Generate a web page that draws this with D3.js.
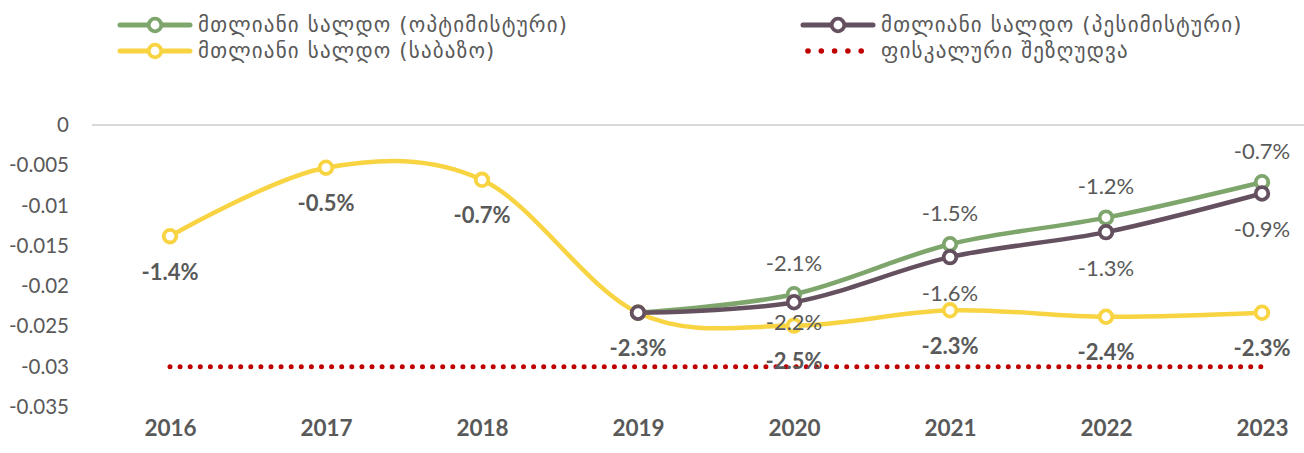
<!DOCTYPE html>
<html><head><meta charset="utf-8">
<script src="https://cdn.jsdelivr.net/npm/d3@7/dist/d3.min.js"></script>
<style>body{margin:0;background:#fff}svg{display:block}</style>
</head><body><svg id="c" width="1304" height="453"></svg>
<script>
const years = ["2016","2017","2018","2019","2020","2021","2022","2023"];
const yTicks = [0,-0.005,-0.01,-0.015,-0.02,-0.025,-0.03,-0.035];
const baseline = [-0.0138,-0.0053,-0.0068,-0.0233,-0.0249,-0.0230,-0.0238,-0.0233];
const baselineLabels = ["-1.4%","-0.5%","-0.7%","-2.3%","-2.5%","-2.3%","-2.4%","-2.3%"];
const optYears = ["2019","2020","2021","2022","2023"];
const optimistic = [-0.0233,-0.0210,-0.0148,-0.0115,-0.0071];
const optLabels = [null,"-2.1%","-1.5%","-1.2%","-0.7%"];
const pessimistic = [-0.0233,-0.0220,-0.0164,-0.0133,-0.0085];
const pessLabels = [null,"-2.2%","-1.6%","-1.3%","-0.9%"];
const fiscalLimit = [-0.03,-0.03,-0.03,-0.03,-0.03,-0.03,-0.03,-0.03];
const legendNames = ["მთლიანი სალდო (ოპტიმისტური)","მთლიანი სალდო (საბაზო)","მთლიანი სალდო (პესიმისტური)","ფისკალური შეზღუდვა"];

const svg = d3.select("#c");
const x = d3.scalePoint().domain(years).range([92,1340]).padding(0.5);
const y = d3.scaleLinear().domain([-0.035,0]).range([407,125]);
const C = {green:"#7ea66c", yellow:"#f8d443", purple:"#655060", red:"#c00000", text:"#595959"};
const font = "Lato, 'Open Sans', sans-serif";

// top axis line (y=0)
svg.append("line").attr("x1",92).attr("x2",1304).attr("y1",y(0)).attr("y2",y(0))
  .attr("stroke","#d9d9d9").attr("stroke-width",2);

// y axis
const yAxis = d3.axisLeft(y).tickValues(yTicks).tickSize(0).tickPadding(0)
  .tickFormat(d => d===0 ? "0" : String(+d.toFixed(3)));
const ya = svg.append("g").attr("transform","translate(69,0)").call(yAxis);
ya.select(".domain").remove();
ya.selectAll("text").attr("fill",C.text).style("font-family",font).style("font-size","20.5px");

// x axis
const xAxis = d3.axisBottom(x).tickSize(0).tickPadding(0);
const xa = svg.append("g").attr("transform","translate(0,428)").call(xAxis);
xa.select(".domain").remove();
xa.selectAll("text").attr("fill",C.text).attr("dy","0.35em").style("font-family",font)
  .style("font-size","22.5px").style("font-weight","bold");

// fiscal limit dotted
const limitLine = d3.line().x((d,i)=>x(years[i])).y(d=>y(d));
svg.append("path").datum(fiscalLimit).attr("d",limitLine).attr("fill","none")
  .attr("stroke",C.red).attr("stroke-width",5).attr("stroke-linecap","round")
  .attr("stroke-dasharray","0 10.1");

const curve = d3.curveCatmullRom.alpha(0);
function series(yrs, vals, color){
  const line = d3.line().x((d,i)=>x(yrs[i])).y(d=>y(d)).curve(curve);
  svg.append("path").datum(vals).attr("d",line).attr("fill","none")
    .attr("stroke",color).attr("stroke-width",4.5).attr("stroke-linecap","round");
}
function markers(yrs, vals, color){
  svg.append("g").selectAll("circle").data(vals).join("circle")
    .attr("cx",(d,i)=>x(yrs[i])).attr("cy",d=>y(d)).attr("r",6.3)
    .attr("fill","#fff").attr("stroke",color).attr("stroke-width",3.8);
}
series(years, baseline, C.yellow);
series(optYears, optimistic, C.green);
series(optYears, pessimistic, C.purple);
markers(years, baseline, C.yellow);
markers(optYears, optimistic, C.green);
markers(optYears, pessimistic, C.purple);

function labels(yrs, vals, labs, dyFn, bold){
  const data = vals.map((v,i)=>({yr:yrs[i], v, lab:labs[i]})).filter(d=>d.lab!==null);
  svg.append("g").selectAll("text").data(data).join("text")
    .attr("x",d=>x(d.yr)).attr("y",d=>y(d.v)+dyFn(d))
    .attr("text-anchor","middle").attr("dominant-baseline","central")
    .attr("fill",C.text).style("font-family",font).style("font-size","22px")
    .style("font-weight",bold?"bold":"normal")
    .text(d=>d.lab);
}
labels(years, baseline, baselineLabels, d=>35, true);
labels(optYears, optimistic, optLabels, d=>-32, false);
labels(optYears, pessimistic, pessLabels, d=>d.yr==="2020"?19:35, false);

// legend
const leg = [
  {x:120,y:25,color:C.green,type:"line",name:legendNames[0]},
  {x:120,y:51,color:C.yellow,type:"line",name:legendNames[1]},
  {x:803,y:25,color:C.purple,type:"line",name:legendNames[2]},
  {x:803,y:51,color:C.red,type:"dot",name:legendNames[3]}
];
const lg = svg.append("g");
leg.forEach(l=>{
  const g = lg.append("g").attr("transform",`translate(${l.x},${l.y})`);
  if(l.type==="line"){
    g.append("line").attr("x1",0).attr("x2",70).attr("stroke",l.color).attr("stroke-width",5).attr("stroke-linecap","round");
    g.append("circle").attr("cx",35).attr("r",6.3).attr("fill","#fff").attr("stroke",l.color).attr("stroke-width",3.8);
  } else {
    [0,1,2,3,4].forEach(k=>g.append("circle").attr("cx",5+k*13.3).attr("r",2.8).attr("fill",l.color));
  }
  g.append("text").attr("x",78).attr("dominant-baseline","central").attr("fill",C.text)
    .style("font-family","'DejaVu Sans', sans-serif").style("font-size","21px")
    .style("letter-spacing","1.2px").text(l.name);
});
</script></body></html>
